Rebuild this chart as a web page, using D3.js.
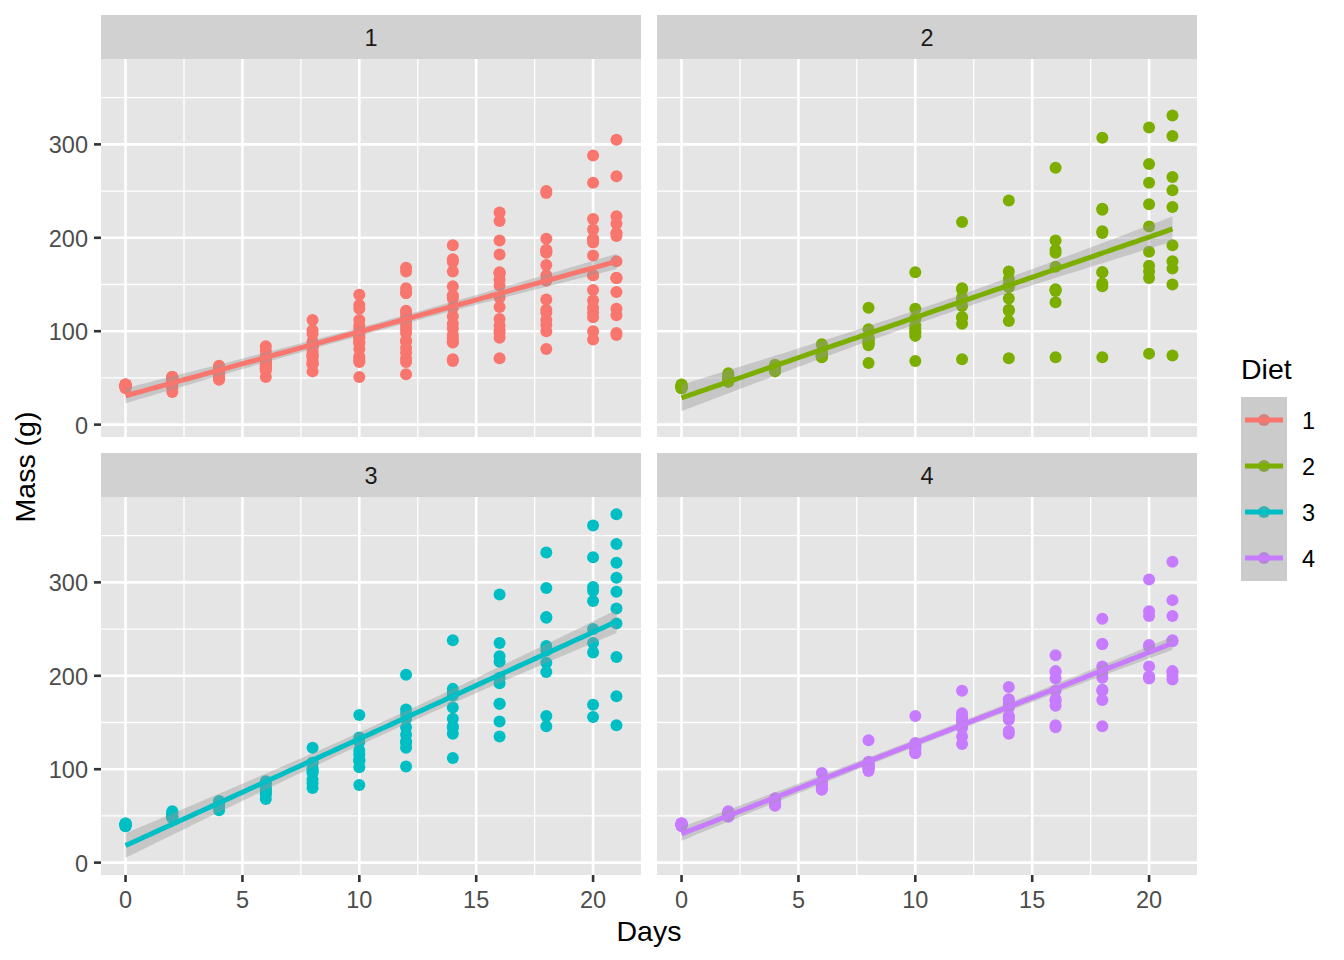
<!DOCTYPE html>
<html><head><meta charset="utf-8">
<script src="https://cdn.jsdelivr.net/npm/d3@7"></script>
<style>body{margin:0;background:#fff}svg{display:block;font-family:"Liberation Sans",Arial,sans-serif}</style>
</head><body><div id="chart"></div>
<script>
const days = [0,2,4,6,8,10,12,14,16,18,20,21];
const dietLabels = ["1","2","3","4"];
const dietColors = ["#F8766D","#7CAE00","#00BFC4","#C77CFF"];
const xTicks = [0,5,10,15,20];
const yTicks = [0,100,200,300];
// weights per chick (each row: weights at successive days)
const diet1 = [
 [42,51,59,64,76,93,106,125,149,171,199,205],
 [40,49,58,72,84,103,122,138,162,187,209,215],
 [43,39,55,67,84,99,115,138,163,187,198,202],
 [42,49,56,67,74,87,102,108,136,154,160,157],
 [41,42,48,60,79,106,141,164,197,199,220,223],
 [41,49,59,74,97,124,141,148,155,160,160,157],
 [41,49,57,71,89,112,146,174,218,250,288,305],
 [42,50,61,71,84,93,110,116,126,134,125],
 [42,51,59,68,85,96,90,92,93,100,100,98],
 [41,44,52,63,74,81,89,96,101,112,120,124],
 [43,51,63,84,112,139,168,177,182,184,181,175],
 [41,49,56,62,72,88,119,135,162,185,195,205],
 [41,48,53,60,65,67,71,70,71,81,91,96],
 [41,49,62,79,101,128,164,192,227,248,259,266],
 [41,49,56,64,68,68,67,68],
 [41,45,49,51,57,51,54],
 [42,51,61,72,83,89,98,103,113,123,133,142],
 [39,35],
 [43,48,55,62,65,71,82,88,106,120,144,157],
 [41,47,54,58,65,73,77,89,98,107,115,117]
];
const diet2 = [
 [40,50,62,86,125,163,217,240,275,307,318,331],
 [41,55,64,77,90,95,108,111,131,148,164,167],
 [43,52,61,73,90,103,127,135,145,163,170,175],
 [42,52,58,74,66,68,70,71,72,72,76,74],
 [40,49,62,78,102,124,146,164,197,231,259,265],
 [42,48,57,74,93,114,136,147,169,205,236,251],
 [39,46,58,73,87,100,115,123,144,163,185,192],
 [39,46,58,73,92,114,145,156,184,207,212,233],
 [39,48,59,74,87,106,134,150,187,230,279,309],
 [42,48,59,72,85,98,115,122,143,151,157,150]
];
const diet3 = [
 [42,53,62,73,85,102,123,138,170,204,235,256],
 [41,49,65,82,107,129,159,179,221,263,291,305],
 [39,50,63,77,96,111,137,144,151,146,156,147],
 [41,49,63,85,107,134,164,186,235,294,327,341],
 [41,53,64,87,123,158,201,238,287,332,361,373],
 [39,48,61,76,98,116,145,166,198,227,225,220],
 [41,48,56,68,80,83,103,112,135,157,169,178],
 [41,49,61,74,98,109,128,154,192,232,280,290],
 [42,50,61,78,89,109,130,146,170,214,250,272],
 [41,55,66,79,101,120,154,182,215,262,295,321]
];
const diet4 = [
 [42,51,66,85,103,124,155,153,175,184,199,204],
 [42,49,63,84,103,126,160,174,204,234,269,281],
 [42,55,69,96,131,157,184,188,197,198,199,200],
 [42,51,65,86,103,118,127,138,145,146],
 [41,50,61,78,98,117,135,141,147,174,197,196],
 [40,52,62,82,101,120,144,156,173,210,231,238],
 [41,53,66,79,100,123,148,157,168,185,210,205],
 [39,50,62,80,104,125,154,170,222,261,303,322],
 [40,53,64,85,108,128,152,166,184,203,233,237],
 [41,54,67,84,105,122,155,175,205,234,264,264]
];
const diets = [diet1,diet2,diet3,diet4];

// ---- stats: lm fit with 95% CI (like geom_smooth(method="lm")) ----
function tq(df){const z=1.959964;return z+(z**3+z)/(4*df)+(5*z**5+16*z**3+3*z)/(96*df*df);}
const panelsData = diets.map((chicks,i)=>{
  const pts=[];
  chicks.forEach(w=>w.forEach((v,j)=>pts.push({x:days[j],y:v})));
  const n=pts.length, mx=d3.mean(pts,d=>d.x), my=d3.mean(pts,d=>d.y);
  let sxx=0,sxy=0; pts.forEach(p=>{sxx+=(p.x-mx)**2;sxy+=(p.x-mx)*(p.y-my);});
  const b=sxy/sxx,a=my-b*mx;
  let sse=0; pts.forEach(p=>{sse+=(p.y-a-b*p.x)**2;});
  const s=Math.sqrt(sse/(n-2)), t=tq(n-2);
  const x0=d3.min(pts,d=>d.x), x1=d3.max(pts,d=>d.x);
  const fit=d3.range(80).map(k=>{const x=x0+(x1-x0)*k/79;const f=a+b*x;const se=s*Math.sqrt(1/n+(x-mx)**2/sxx);return {x,y:f,lo:f-t*se,hi:f+t*se};});
  return {pts,fit,label:dietLabels[i],color:dietColors[i]};
});

const W=1344,H=960;
const svg=d3.select("#chart").append("svg").attr("width",W).attr("height",H);
svg.append("rect").attr("width",W).attr("height",H).attr("fill","#fff");

const colX=[101,657], pW=540;
const stripTop=[15,453], stripH=44, panelTop=[59,497], pH=378;

const allY=[];
panelsData.forEach(p=>{p.pts.forEach(d=>allY.push(d.y));p.fit.forEach(d=>{allY.push(d.lo,d.hi);});});
const yMin=d3.min(allY), yMax=d3.max(allY), yPad=(yMax-yMin)*0.05;
const xPad=21*0.05;

const tickFont=23.5, titleFont=28.5;
const majW=2.6, minW=1.3, tickLen=7, lineW=5, ptR=6;

panelsData.forEach((p,i)=>{
  const c=i%2, r=Math.floor(i/2);
  const left=colX[c], top=panelTop[r];
  const x=d3.scaleLinear().domain([0-xPad,21+xPad]).range([left,left+pW]);
  const y=d3.scaleLinear().domain([yMin-yPad,yMax+yPad]).range([top+pH,top]);
  const g=svg.append("g");
  // strip
  g.append("rect").attr("x",left).attr("y",stripTop[r]).attr("width",pW).attr("height",stripH).attr("fill","#D1D1D1");
  g.append("text").attr("x",left+pW/2).attr("y",stripTop[r]+stripH/2+1).attr("text-anchor","middle").attr("dominant-baseline","central")
    .attr("font-size",tickFont).attr("fill","#1A1A1A").text(p.label);
  // panel bg
  g.append("rect").attr("x",left).attr("y",top).attr("width",pW).attr("height",pH).attr("fill","#E5E5E5");
  const clip="clip"+i;
  svg.append("clipPath").attr("id",clip).append("rect").attr("x",left).attr("y",top).attr("width",pW).attr("height",pH);
  const gc=g.append("g").attr("clip-path",`url(#${clip})`);
  // minor grid
  [2.5,7.5,12.5,17.5].forEach(v=>gc.append("line").attr("x1",x(v)).attr("x2",x(v)).attr("y1",top).attr("y2",top+pH).attr("stroke","#fff").attr("stroke-width",minW));
  [50,150,250,350].forEach(v=>gc.append("line").attr("y1",y(v)).attr("y2",y(v)).attr("x1",left).attr("x2",left+pW).attr("stroke","#fff").attr("stroke-width",minW));
  // major grid
  xTicks.forEach(v=>gc.append("line").attr("x1",x(v)).attr("x2",x(v)).attr("y1",top).attr("y2",top+pH).attr("stroke","#fff").attr("stroke-width",majW));
  yTicks.forEach(v=>gc.append("line").attr("y1",y(v)).attr("y2",y(v)).attr("x1",left).attr("x2",left+pW).attr("stroke","#fff").attr("stroke-width",majW));
  // points
  gc.selectAll("circle").data(p.pts).join("circle").attr("cx",d=>x(d.x)).attr("cy",d=>y(d.y)).attr("r",ptR).attr("fill",p.color);
  // ribbon
  gc.append("path").datum(p.fit).attr("d",d3.area().x(d=>x(d.x)).y0(d=>y(d.lo)).y1(d=>y(d.hi))).attr("fill","#999999").attr("fill-opacity",0.4);
  gc.append("path").datum(p.fit).attr("d",d3.line().x(d=>x(d.x)).y(d=>y(d.y))).attr("fill","none").attr("stroke",p.color).attr("stroke-width",lineW);
  // axes
  if(c===0){
    yTicks.forEach(v=>{
      g.append("line").attr("x1",left-tickLen).attr("x2",left).attr("y1",y(v)).attr("y2",y(v)).attr("stroke","#333").attr("stroke-width",majW);
      g.append("text").attr("x",left-tickLen-6).attr("y",y(v)+1).attr("text-anchor","end").attr("dominant-baseline","central").attr("font-size",tickFont).attr("fill","#4D4D4D").text(v);
    });
  }
  if(r===1){
    xTicks.forEach(v=>{
      g.append("line").attr("x1",x(v)).attr("x2",x(v)).attr("y1",top+pH).attr("y2",top+pH+tickLen).attr("stroke","#333").attr("stroke-width",majW);
      g.append("text").attr("x",x(v)).attr("y",top+pH+tickLen+18).attr("text-anchor","middle").attr("dominant-baseline","central").attr("font-size",tickFont).attr("fill","#4D4D4D").text(v);
    });
  }
});

// axis titles
svg.append("text").attr("x",(colX[0]+colX[1]+pW)/2).attr("y",931).attr("text-anchor","middle").attr("dominant-baseline","central").attr("font-size",titleFont).attr("fill","#000").text("Days");
svg.append("text").attr("transform",`translate(25,467) rotate(-90)`).attr("text-anchor","middle").attr("dominant-baseline","central").attr("font-size",titleFont).attr("fill","#000").text("Mass (g)");

// legend
const lg=svg.append("g");
lg.append("text").attr("x",1241).attr("y",379).attr("font-size",titleFont).attr("fill","#000").text("Diet");
const keyX=1241, keyY=397, keyS=46;
panelsData.forEach((p,i)=>{
  const ky=keyY+i*keyS;
  lg.append("rect").attr("x",keyX).attr("y",ky).attr("width",keyS).attr("height",keyS).attr("fill","#EDEDED");
  lg.append("circle").attr("cx",keyX+keyS/2).attr("cy",ky+keyS/2).attr("r",ptR).attr("fill",p.color);
  lg.append("rect").attr("x",keyX).attr("y",ky).attr("width",keyS).attr("height",keyS).attr("fill","#999999").attr("fill-opacity",0.4);
  lg.append("line").attr("x1",keyX+4).attr("x2",keyX+keyS-4).attr("y1",ky+keyS/2).attr("y2",ky+keyS/2).attr("stroke",p.color).attr("stroke-width",lineW);
  lg.append("text").attr("x",keyX+keyS+15).attr("y",ky+keyS/2+1).attr("dominant-baseline","central").attr("font-size",tickFont).attr("fill","#000").text(p.label);
});
</script></body></html>
